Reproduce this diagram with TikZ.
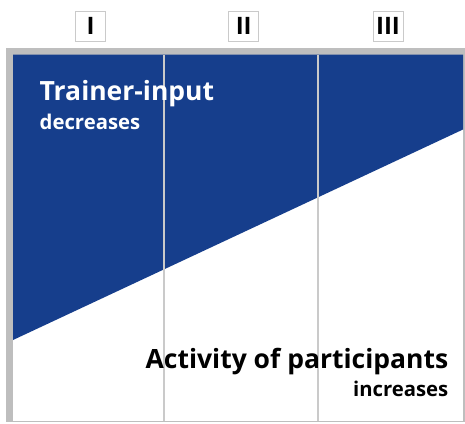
\documentclass[tikz,border=0pt]{standalone}
\usepackage{fontspec}
\setmainfont{Open Sans}
\usetikzlibrary{positioning, calc}
\definecolor{trainerblue}{RGB}{22,62,140}
\definecolor{framegray}{RGB}{190,190,190}
\definecolor{linegray}{RGB}{202,202,202}

\begin{document}
\begin{tikzpicture}[x=1pt, y=-1pt]

\tikzstyle{phase}=[draw=linegray, line width=1pt, rectangle, minimum width=30pt, minimum height=30pt, inner sep=0pt, font=\fontsize{24}{24}\selectfont\bfseries]
\tikzstyle{divider}=[draw=linegray, line width=2pt]
\tikzstyle{headline}=[inner sep=0pt, font=\fontsize{26.5}{26.5}\selectfont\bfseries]
\tikzstyle{subline}=[inner sep=0pt, font=\fontsize{20.3}{20.3}\selectfont\bfseries]

\useasboundingbox (0,0) rectangle (465,423);

% frame
\fill [framegray] (6,47.5) rectangle (465,422);
\fill [white] (13,54.5) rectangle (463,420.5);

% trainer part
\coordinate (tl) at (13,54.5);
\coordinate (tr) at (463,54.5);
\coordinate (cut-r) at (463,129.5);
\coordinate (cut-l) at (13,340);
\fill [trainerblue] (tl) -- (tr) -- (cut-r) -- (cut-l) -- cycle;

% phases
\foreach \x/\i in {164.3/1, 318.3/2}
{
	\coordinate (div-top-\i) at (\x,54.5);
	\coordinate (div-bot-\i) at (\x,420.5);
	\draw [divider] (div-top-\i) -- (div-bot-\i);
}

\node [phase] (phase-1) at (90.5,26) {I};
\node [phase] (phase-2) at (243.7,26) {II};
\node [phase] (phase-3) at (388,26) {III};

% labels
\node [headline, text=white, anchor=base west] (trainer) at (39.5,100) {Trainer-input};
\node [subline, text=white, anchor=base west] (trainer-sub) at (39.5,129) {decreases};
\node [headline, anchor=base east] (activity) at (448.5,368.3) {Activity of participants};
\node [subline, anchor=base east] (activity-sub) at (448.5,396.7) {increases};

\end{tikzpicture}
\end{document}
